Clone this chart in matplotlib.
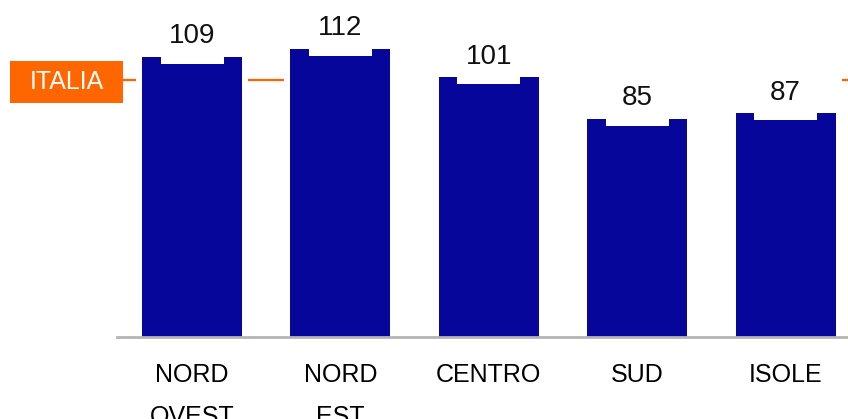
import matplotlib.pyplot as plt
from matplotlib.patches import Rectangle

plt.rcParams['font.family'] = ['Liberation Sans Narrow', 'Liberation Sans', 'DejaVu Sans']

regioni = ['NORD\nOVEST', 'NORD\nEST', 'CENTRO', 'SUD', 'ISOLE']
valori = [109, 112, 101, 85, 87]
italia = 100

blu = '#06069a'
arancio = '#ff6600'

fig = plt.figure(figsize=(8.48, 4.19), dpi=100)
# axes from the baseline (y=337px) up to the top edge, left edge at x=117px
ax = fig.add_axes([117 / 848, 1 - 337 / 419, 1 - 117 / 848, 337 / 419])
px = 148.4  # pixels per category
sc = 2.57   # pixels per unit
ax.set_xlim(-75 / px, (848 - 192) / px)
ax.set_ylim(0, 337 / sc)

x = list(range(len(valori)))
w = 100 / px
ax.bar(x, valori, width=w, color=blu, zorder=2)

# italy reference line, visible only in the gaps next to the first bar and at the right
pad = 6 / px
segs = [(-69 / px, x[0] - w / 2 - pad),
        (x[0] + w / 2 + pad, x[1] - w / 2 - pad),
        (x[-1] + w / 2 + pad, ax.get_xlim()[1])]
for a, b in segs:
    ax.hlines(italia, a, b, color=arancio, lw=1.6, zorder=1)

# orange tag on the left
bx0, bx1 = -182 / px, -69 / px
ax.add_patch(Rectangle((bx0, italia - 23 / sc), bx1 - bx0, 42 / sc,
                       facecolor=arancio, edgecolor='none', clip_on=False, zorder=3))
ax.text((bx0 + bx1) / 2, italia - 2 / sc, 'ITALIA', color='white', fontsize=18,
        ha='center', va='center', clip_on=False, zorder=4)

# value labels on a white box biting into the bar top
bw = 63 / px
for xi, v in zip(x, valori):
    ax.add_patch(Rectangle((xi - bw / 2, v - 7 / sc), bw, 30 / sc,
                           facecolor='white', edgecolor='none', zorder=3))
    ax.annotate(str(v), (xi, v), xytext=(0, 10), textcoords='offset points',
                ha='center', va='baseline', fontsize=20, color='#111111',
                zorder=4, annotation_clip=False)

for s in ['top', 'right', 'left']:
    ax.spines[s].set_visible(False)
ax.spines['bottom'].set_color('#b4b4b4')
ax.spines['bottom'].set_linewidth(2)
ax.set_yticks([])
ax.set_xticks(x)
ax.set_xticklabels(regioni, fontsize=18, linespacing=1.95, va='top')
ax.tick_params(axis='x', length=0, pad=19)

fig.savefig('out.png', dpi=100)
